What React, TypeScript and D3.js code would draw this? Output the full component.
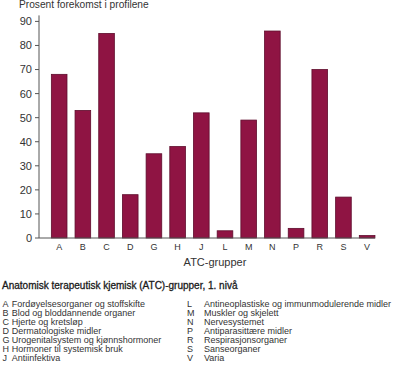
import React from "react";
import * as d3 from "d3";

const categories = ["A", "B", "C", "D", "G", "H", "J", "L", "M", "N", "P", "R", "S", "V"];
const values = [68, 53, 85, 18, 35, 38, 52, 3, 49, 86, 4, 70, 17, 1];
const yTicks = [0, 10, 20, 30, 40, 50, 60, 70, 80, 90];
const legendLeft = [
  ["A", "Fordøyelsesorganer og stoffskifte"],
  ["B", "Blod og bloddannende organer"],
  ["C", "Hjerte og kretsløp"],
  ["D", "Dermatologiske midler"],
  ["G", "Urogenitalsystem og kjønnshormoner"],
  ["H", "Hormoner til systemisk bruk"],
  ["J", "Antiinfektiva"],
];
const legendRight = [
  ["L", "Antineoplastiske og immunmodulerende midler"],
  ["M", "Muskler og skjelett"],
  ["N", "Nervesystemet"],
  ["P", "Antiparasittære midler"],
  ["R", "Respirasjonsorganer"],
  ["S", "Sanseorganer"],
  ["V", "Varia"],
];

const FONT = "'Liberation Sans', Arial, sans-serif";
const TEXT = "#333";

export default function App() {
  const x = d3.scaleBand<string>().domain(categories).range([43.3, 383]).padding(0.34);
  const y = d3.scaleLinear().domain([0, 90]).range([238, 21.4]);
  const axisX0 = 39;
  const axisX1 = 375;
  const rowY = (i: number) => 306.5 + i * 9;

  return (
    <svg
      width={400}
      height={370}
      style={{ position: "absolute", left: 0, top: 0, background: "#fff" }}
      fontFamily={FONT}
    >
      <text x={19} y={8} fontSize={10.2} fill={TEXT}>Prosent forekomst i profilene</text>

      {categories.map((c, i) => (
        <rect
          key={c}
          x={x(c)}
          y={y(values[i])}
          width={x.bandwidth()}
          height={y(0) - y(values[i])}
          fill="#8f1443"
          stroke="#5e0c2c"
          strokeWidth={0.8}
        />
      ))}

      <line x1={axisX0} x2={axisX0} y1={y(90) - 6} y2={y(0)} stroke="#555" strokeWidth={1} />
      <line x1={axisX0} x2={axisX1} y1={y(0)} y2={y(0)} stroke="#555" strokeWidth={1} />
      {yTicks.map((t) => (
        <g key={t}>
          <line x1={axisX0 - 4} x2={axisX0} y1={y(t)} y2={y(t)} stroke="#555" strokeWidth={1} />
          <text x={32} y={y(t)} dy="0.36em" textAnchor="end" fontSize={11} fill={TEXT}>{t}</text>
        </g>
      ))}
      {categories.map((c) => (
        <text key={c} x={(x(c) ?? 0) + x.bandwidth() / 2} y={250} textAnchor="middle" fontSize={9} fill={TEXT}>{c}</text>
      ))}
      <text x={215} y={265.5} textAnchor="middle" fontSize={11} fill={TEXT}>ATC-grupper</text>

      <text x={2} y={289} fontSize={10} fill="#1a1a1a" stroke="#1a1a1a" strokeWidth={0.3}>Anatomisk terapeutisk kjemisk (ATC)-grupper, 1. nivå</text>
      {legendLeft.map(([k, v], i) => (
        <g key={k}>
          <text x={2.5} y={rowY(i)} fontSize={9} fill={TEXT}>{k}</text>
          <text x={11.7} y={rowY(i)} fontSize={9} fill={TEXT}>{v}</text>
        </g>
      ))}
      {legendRight.map(([k, v], i) => (
        <g key={k}>
          <text x={187} y={rowY(i)} fontSize={9} fill={TEXT}>{k}</text>
          <text x={204} y={rowY(i)} fontSize={9} fill={TEXT}>{v}</text>
        </g>
      ))}
    </svg>
  );
}
